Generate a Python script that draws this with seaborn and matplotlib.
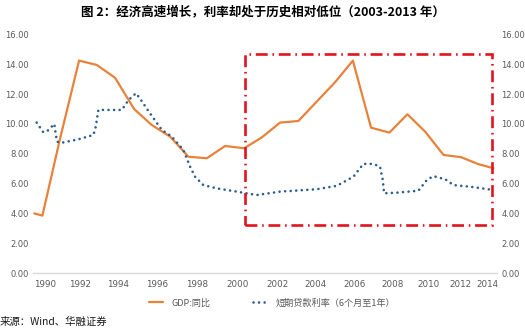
import matplotlib
matplotlib.use("Agg")
import matplotlib.pyplot as plt
import matplotlib.patches as mpatches
from matplotlib.lines import Line2D
import seaborn as sns
import pandas as pd

# ---- data ----
title = "图 2：经济高速增长，利率却处于历史相对低位（2003-2013 年）"
source = "来源：Wind、华融证券"
gdp_label = "GDP:同比"
rate_label = "短期贷款利率（6个月至1年）"

# time positions as plotted (decimal years) and values
gdp_t = [1989.56, 1990.0, 1990.96, 1992.0, 1992.96, 1993.96, 1995.0, 1995.96, 1996.96,
         1997.96, 1998.96, 1999.96, 2001.0, 2001.96, 2002.95, 2003.95, 2004.95, 2005.95,
         2006.92, 2007.91, 2008.91, 2009.89, 2010.86, 2011.86, 2012.82, 2013.76, 2014.58]
gdp_v = [4.0, 3.85, 9.0, 14.25, 13.96, 13.1, 11.0, 9.93, 9.15,
         7.8, 7.7, 8.52, 8.37, 9.1, 10.09, 10.2, 11.5, 12.8,
         14.25, 9.75, 9.42, 10.65, 9.48, 7.92, 7.77, 7.3, 7.03]

rate_t = [1989.69, 1990.05, 1990.29, 1990.65, 1990.72, 1990.80, 1991.06, 1991.96, 1992.78,
          1992.91, 1993.05, 1994.33, 1994.69, 1995.1, 1995.32, 1995.87, 1996.51, 1997.05,
          1997.68, 1998.05, 1998.32, 1998.77, 1999.50, 2000.59, 2001.68, 2002.95, 2004.95,
          2006.04, 2006.95, 2007.49, 2008.04, 2008.40, 2008.55, 2008.62, 2009.31, 2010.49,
          2010.95, 2011.31, 2011.95, 2012.40, 2013.31, 2014.58]
rate_v = [10.09, 9.44, 9.55, 10.0, 9.38, 8.81, 8.74, 8.97, 9.26,
          9.82, 10.94, 10.94, 11.6, 12.06, 11.7, 10.7, 9.6, 9.15,
          8.26, 7.13, 6.46, 5.9, 5.68, 5.46, 5.23, 5.46, 5.62,
          5.85, 6.46, 7.32, 7.32, 7.13, 6.24, 5.35, 5.39, 5.52,
          6.24, 6.5, 6.29, 5.9, 5.79, 5.57]

x_tick_labels = ["1990", "1992", "1994", "1996", "1998", "2000", "2002",
                 "2004", "2006", "2008", "2010", "2012", "2014"]
x_tick_pos = [1990.15, 1992.05, 1994.14, 1996.23, 1998.41, 2000.61, 2002.79,
              2004.90, 2006.99, 2009.07, 2011.02, 2012.76, 2014.23]
y_ticks = [0, 2, 4, 6, 8, 10, 12, 14, 16]

# highlighted period box
box_t0, box_t1 = 2001.05, 2014.50
box_v0, box_v1 = 3.22, 14.70

# ---- style ----
sns.set_theme(style="white")
plt.rcParams["font.family"] = ["Noto Sans CJK SC", "DejaVu Sans"]

C_GDP = "#E8823A"
C_RATE = "#2B5D8C"
C_BOX = "#E0141E"
C_TXT = "#595959"

fig = plt.figure(figsize=(5.25, 3.3), dpi=100)
ax = fig.add_axes([0.0629, 0.1727, 0.884, 0.7227])

gdp_df = pd.DataFrame({"t": gdp_t, "v": gdp_v})
rate_df = pd.DataFrame({"t": rate_t, "v": rate_v})

sns.lineplot(data=gdp_df, x="t", y="v", ax=ax, color=C_GDP, linewidth=1.6)
sns.lineplot(data=rate_df, x="t", y="v", ax=ax, color=C_RATE, linewidth=1.9)
rate_line = ax.lines[-1]
rate_line.set_linestyle((0, (0.01, 2.1)))
rate_line.set_dash_capstyle("round")

rect = mpatches.Rectangle((box_t0, box_v0), box_t1 - box_t0, box_v1 - box_v0,
                          fill=False, edgecolor=C_BOX, linewidth=1.9,
                          linestyle=(0, (4.5, 1.8, 0.6, 1.8)), zorder=5)
ax.add_patch(rect)

ax.set_xlim(1989.49, 2014.78)
ax.set_ylim(0, 16)
ax.set_yticks(y_ticks)
ax.set_yticklabels([f"{v:.2f}" for v in y_ticks])
ax.set_xticks(x_tick_pos)
ax.set_xticklabels(x_tick_labels)
ax.set_xlabel("")
ax.set_ylabel("")
ax.tick_params(axis="y", length=0, pad=3.2, labelsize=6.0, labelcolor=C_TXT,
               labelleft=True, labelright=True)
ax.tick_params(axis="x", length=0, pad=5, labelsize=6.3, labelcolor=C_TXT)
for lab in ax.get_xticklabels() + ax.get_yticklabels():
    lab.set_family("DejaVu Sans")
for s in ["top", "left", "right"]:
    ax.spines[s].set_visible(False)
ax.spines["bottom"].set_color("#D9D9D9")
ax.spines["bottom"].set_linewidth(1.0)

handles = [Line2D([0], [0], color=C_GDP, linewidth=1.6),
           Line2D([0], [0], color=C_RATE, linewidth=1.9,
                  linestyle=(0, (0.01, 2.1)), dash_capstyle="round")]
fig.legend(handles, [gdp_label, rate_label], loc="center", ncol=2,
           bbox_to_anchor=(0.518, 0.082), frameon=False, fontsize=6.6,
           labelcolor=C_TXT, handlelength=1.6, columnspacing=4.6, handletextpad=0.9)

fig.text(0.5, 0.965, title, ha="center", va="center", fontsize=9, fontweight="bold",
         color="#000000")
fig.text(0.0, 0.024, source, ha="left", va="center", fontsize=7.5, color="#1a1a1a")

fig.savefig("out.png", dpi=100)
